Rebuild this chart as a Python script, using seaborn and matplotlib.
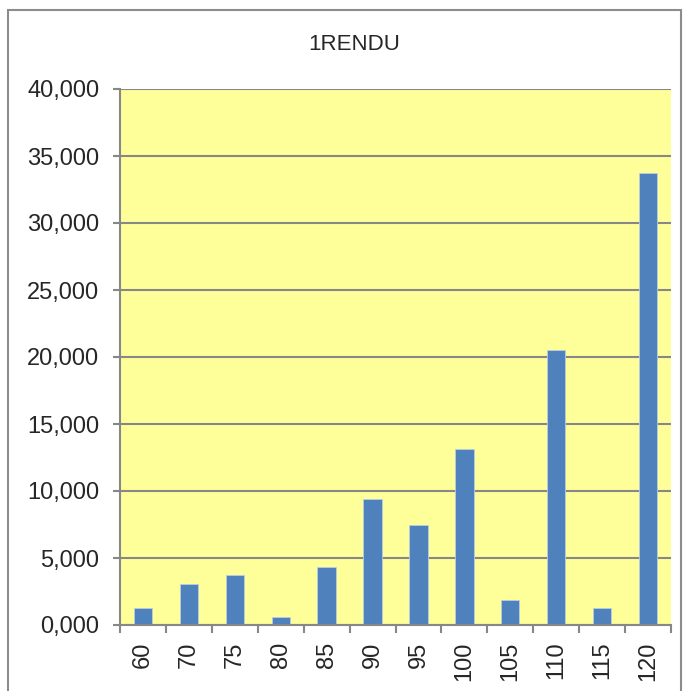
import matplotlib
matplotlib.use("Agg")
import matplotlib.pyplot as plt
import matplotlib.ticker as mticker
from matplotlib.patches import Rectangle
import seaborn as sns

# categories and values (shown as 0,000 .. 40,000 with decimal comma)
categories = ["60", "70", "75", "80", "85", "90", "95", "100", "105", "110", "115", "120"]
values = [1.25, 3.05, 3.75, 0.6, 4.3, 9.4, 7.45, 13.1, 1.83, 20.5, 1.25, 33.7]

sns.set_style("white")
plt.rcParams["font.family"] = ["Liberation Sans", "DejaVu Sans"]

fig = plt.figure(figsize=(6.83, 6.91), dpi=100)
ax = fig.add_axes([120/683, 1 - 625/691, 551/683, 536/691])
ax.set_facecolor("#FFFF99")

sns.barplot(x=categories, y=values, color="#4F81BD", width=0.4,
            edgecolor="#B9CDE5", linewidth=0.6, saturation=1, ax=ax)

ax.set_ylim(0, 40)
ax.set_xlim(-0.5, len(categories) - 0.5)
ax.yaxis.set_major_locator(mticker.MultipleLocator(5))
ax.yaxis.set_major_formatter(mticker.FuncFormatter(lambda v, p: f"{v:.3f}".replace(".", ",")))
ax.grid(axis="y", color="#878787", linewidth=1.5)
ax.set_axisbelow(True)

for s in ["top", "right"]:
    ax.spines[s].set_visible(False)
for s in ["left", "bottom"]:
    ax.spines[s].set_color("#878787")
    ax.spines[s].set_linewidth(1.5)

ax.tick_params(axis="y", labelsize=17, length=5, width=1.5, color="#878787", pad=10, left=True)
ax.tick_params(axis="x", labelsize=17, length=0, rotation=90, pad=12)
ax.set_xticks([i - 0.5 for i in range(len(categories) + 1)], minor=True)
ax.tick_params(axis="x", which="minor", length=6, width=1.5, color="#878787", bottom=True)
ax.set_xlabel("")
ax.set_ylabel("")

fig.text(354/683, 1 - 45/691, "1RENDU", ha="center", va="center", fontsize=16)

fig.patches.append(Rectangle((8/683, -0.05), 673/683, 1 - 10/691 + 0.05,
                             transform=fig.transFigure, fill=False,
                             edgecolor="#8C8C8C", linewidth=1.5))

fig.savefig("out.png", dpi=100)
